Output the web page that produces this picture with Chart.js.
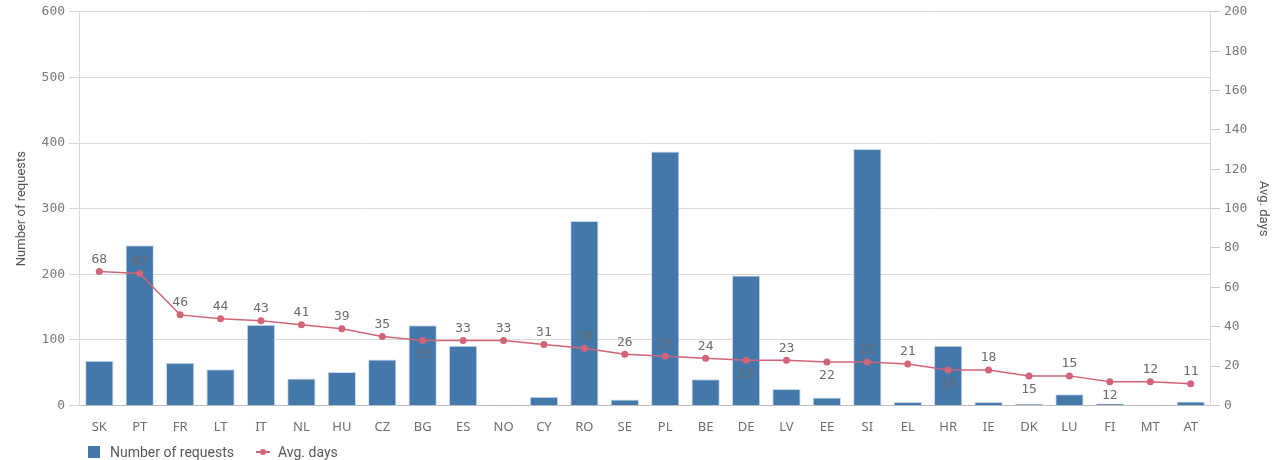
<!DOCTYPE html>
<html>
<head>
<meta charset="utf-8">
<script src="https://cdn.jsdelivr.net/npm/chart.js@4/dist/chart.umd.min.js"></script>
<style>
  html, body { margin: 0; padding: 0; background: #fff; overflow: hidden; }
  #wrap { position: relative; width: 1281px; height: 460px; }
  #legend { position: absolute; left: 88px; top: 444px; font: 14px/16px Roboto, sans-serif; color: #595959; white-space: nowrap; display: flex; }
  .item { display: flex; align-items: center; margin-right: 22px; height: 16px; }
  .swatch { width: 12px; height: 12px; background: #4477aa; margin-right: 10px; }
  .lineKey { position: relative; width: 14px; height: 2px; background: #d26478; margin-right: 8px; }
  .lineKey::after { content: ''; position: absolute; left: 4px; top: -2px; width: 6px; height: 6px; border-radius: 50%; background: #d26478; }
</style>
</head>
<body>
<div id="wrap">
  <canvas id="chart" width="1281" height="460"></canvas>
  <div id="legend">
    <span class="item"><span class="swatch"></span>Number of requests</span>
    <span class="item"><span class="lineKey"></span>Avg. days</span>
  </div>
</div>
<script>
const countries = ['SK', 'PT', 'FR', 'LT', 'IT', 'NL', 'HU', 'CZ', 'BG', 'ES', 'NO', 'CY', 'RO', 'SE', 'PL', 'BE', 'DE', 'LV', 'EE', 'SI', 'EL', 'HR', 'IE', 'DK', 'LU', 'FI', 'MT', 'AT'];
const requests = [68, 244, 65, 55, 123, 41, 51, 70, 122, 91, 1, 13, 281, 9, 387, 40, 198, 25, 12, 391, 5, 91, 5, 2, 17, 3, 1, 6];
const avgDays = [68, 67, 46, 44, 43, 41, 39, 35, 33, 33, 33, 31, 29, 26, 25, 24, 23, 23, 22, 22, 21, 18, 18, 15, 15, 12, 12, 11];

const monoFont = { family: '"DejaVu Sans Mono", monospace', size: 13 };
const textGray = '#7a7a7a';
const lineColor = '#d26478';

// value labels on the line; where two neighbours tie, the first one goes underneath
const pointLabels = {
  id: 'pointLabels',
  afterDatasetsDraw(chart) {
    const meta = chart.getDatasetMeta(0);
    const ctx = chart.ctx;
    ctx.save();
    ctx.font = '13px "DejaVu Sans Mono", monospace';
    ctx.fillStyle = '#6b6b6b';
    ctx.textAlign = 'center';
    ctx.textBaseline = 'middle';
    let prevBelow = false;
    meta.data.forEach((pt, i) => {
      const below = !prevBelow && i < avgDays.length - 1 && avgDays[i + 1] === avgDays[i];
      ctx.fillText(String(avgDays[i]), pt.x, below ? pt.y + 14 : pt.y - 12);
      prevBelow = below;
    });
    ctx.restore();
  }
};

new Chart(document.getElementById('chart'), {
  type: 'bar',
  data: {
    labels: countries,
    datasets: [
      {
        type: 'line',
        label: 'Avg. days',
        data: avgDays,
        yAxisID: 'y1',
        borderColor: lineColor,
        backgroundColor: lineColor,
        borderWidth: 1.5,
        pointRadius: 3.5,
        pointBorderWidth: 0,
        order: 0,
      },
      {
        label: 'Number of requests',
        data: requests,
        yAxisID: 'y',
        backgroundColor: '#4477aa',
        borderColor: 'rgba(190,210,230,0.8)',
        borderWidth: 1,
        barPercentage: 0.7,
        categoryPercentage: 1,
        order: 1,
      },
    ],
  },
  options: {
    responsive: false,
    animation: false,
    layout: { padding: { top: 4, bottom: 19, left: 10, right: 2 } },
    plugins: { legend: { display: false }, tooltip: { enabled: false } },
    scales: {
      x: {
        grid: { display: false },
        border: { color: '#bdbdbd' },
        ticks: { color: '#6e6e6e', font: { family: '"Noto Sans", sans-serif', size: 13 }, padding: 6 },
      },
      y: {
        position: 'left',
        min: 0,
        max: 600,
        ticks: { stepSize: 100, color: textGray, font: monoFont, padding: 4 },
        grid: { color: '#d9d9d9', tickLength: 10 },
        border: { color: '#d9d9d9' },
        title: { display: true, text: 'Number of requests', color: '#555', font: { family: 'Roboto, sans-serif', size: 13 }, padding: { bottom: 8 } },
      },
      y1: {
        position: 'right',
        min: 0,
        max: 200,
        ticks: { stepSize: 20, color: textGray, font: monoFont, padding: 4 },
        grid: { drawOnChartArea: false, color: '#c8c8c8', tickLength: 9 },
        border: { color: '#d9d9d9' },
        title: { display: true, text: 'Avg. days', color: '#555', font: { family: 'Roboto, sans-serif', size: 13 }, padding: { top: 8 } },
      },
    },
  },
  plugins: [pointLabels],
});
</script>
</body>
</html>
